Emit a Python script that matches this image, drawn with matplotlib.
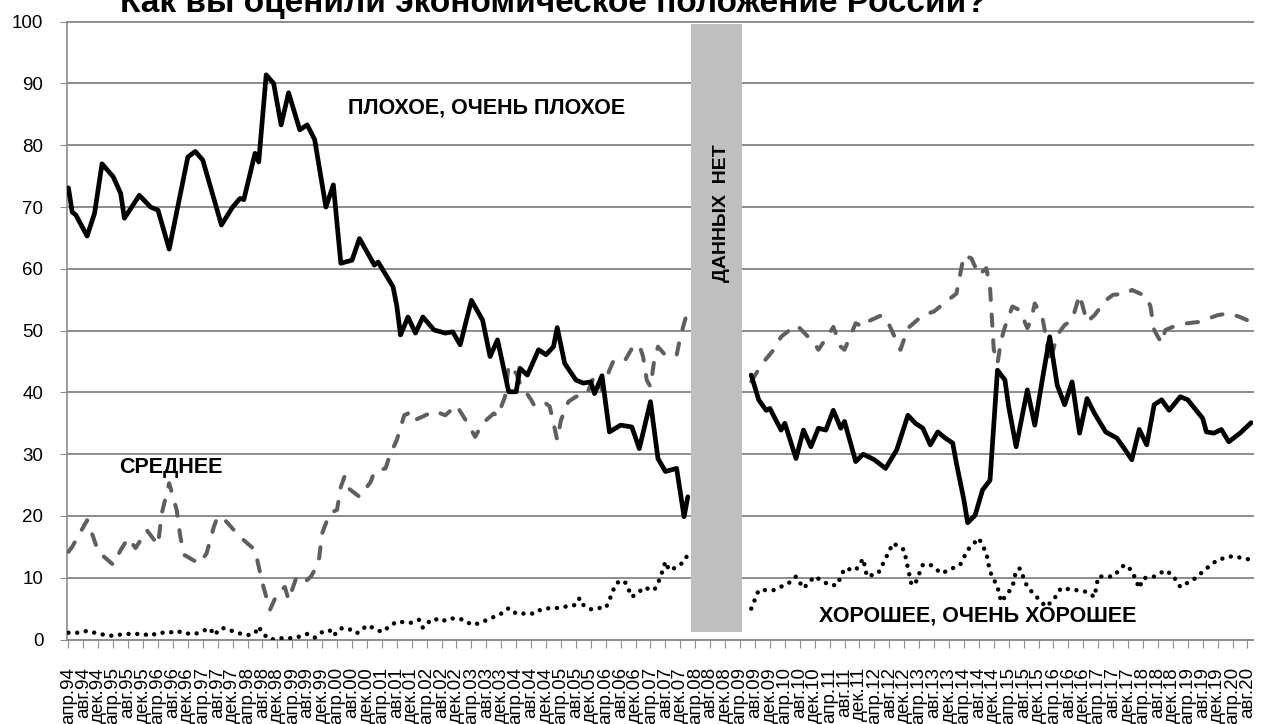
import matplotlib
matplotlib.use('Agg')
import matplotlib.pyplot as plt

# шрифт как в Excel (Arial -> Liberation Sans)
plt.rcParams['font.family'] = ['Liberation Sans', 'DejaVu Sans']

# месяцы от апр.94 (0) и значения, %
bad_m = [0, 1, 2, 5, 7, 9, 12, 14, 15, 19, 22, 24, 27, 32, 34, 36, 41, 44, 46, 47,
         50, 51, 53, 55, 57, 59, 62, 64, 66, 69, 71, 73, 76, 78, 82, 83, 87, 88, 89, 91,
         93, 95, 98, 101, 103, 105, 108, 111, 113, 115, 118, 120, 121, 123, 126, 128, 130, 131, 133, 136,
         138, 140, 141, 143, 145, 148, 151, 153, 156, 158, 160, 163, 165, 166,
         183, 185, 187, 188, 191, 192, 195, 197, 199, 201, 203, 205, 207, 208, 211, 213, 216, 219, 222, 225,
         227, 229, 231, 233, 235, 237, 238, 240, 241, 243, 245, 247, 249, 251, 252, 254, 257, 259, 261, 263,
         265, 267, 269, 271, 273, 275, 278, 281, 283, 285, 287, 289, 291, 293, 295, 298, 300, 304, 305, 307,
         309, 311, 314, 317]
bad_v = [73.1, 69.2, 68.7, 65.3, 69, 77, 74.9, 72.2, 68.2, 71.9, 70, 69.5, 63.2, 78.1, 79, 77.6, 67.1, 70, 71.4, 71.2,
         78.7, 77.3, 91.4, 90, 83.3, 88.5, 82.5, 83.3, 80.9, 70, 73.6, 60.9, 61.4, 64.9, 60.6, 61.1, 57.1, 54, 49.3, 52.2,
         49.6, 52.2, 50.1, 49.6, 49.8, 47.7, 54.9, 51.7, 45.8, 48.5, 40.1, 40.1, 43.9, 42.8, 46.9, 46.1, 47.4, 50.5, 44.7, 42,
         41.5, 41.7, 39.8, 42.7, 33.6, 34.7, 34.4, 30.9, 38.5, 29.3, 27.2, 27.7, 19.9, 23.1,
         42.8, 38.8, 37.1, 37.4, 33.9, 35, 29.3, 33.9, 31.2, 34.2, 33.9, 37.1, 34.2, 35.3, 28.8, 30, 29.1, 27.7, 30.7, 36.3,
         35, 34.2, 31.5, 33.6, 32.6, 31.8, 28.5, 22.6, 18.9, 20.1, 24.2, 25.8, 43.6, 42, 37.7, 31.2, 40.4, 34.7, 42, 49,
         41.2, 38, 41.7, 33.4, 39, 36.6, 33.6, 32.6, 30.9, 29.1, 34, 31.5, 38, 38.8, 37.1, 39.3, 38.8, 35.8, 33.6, 33.4,
         34, 32, 33.4, 35.1]

mid_m = [0, 1, 5, 6, 8, 12, 14, 16, 18, 21, 24, 25, 27, 29, 30, 31, 35, 37, 39, 40,
         42, 46, 50, 51, 52, 54, 56, 58, 59, 61, 63, 65, 67, 68, 70, 72, 73, 74, 75, 78,
         81, 82, 85, 86, 88, 90, 91, 92, 95, 98, 101, 104, 107, 109, 111, 114, 115, 117, 118, 120,
         121, 124, 125, 128, 129, 131, 132, 134, 136, 139, 141, 143, 145, 146, 149, 151, 153, 154, 155, 156,
         157, 158, 160, 163, 164, 166,
         183, 186, 189, 191, 195, 196, 200, 201, 204, 205, 207, 208, 211, 213, 214, 218, 220, 223, 225, 229,
         232, 234, 238, 240, 242, 244, 246, 247, 248, 249, 250, 251, 253, 255, 257, 258, 259, 261, 262, 263,
         265, 267, 269, 271, 273, 275, 278, 280, 284, 285, 289, 290, 291, 292, 293, 294, 296, 300, 303, 308,
         311, 314, 317]
mid_v = [14.2, 15, 19.3, 17.7, 14.2, 12.1, 14.5, 16.4, 14.8, 17.7, 15.3, 20.4, 25.3, 21, 16.6, 13.7, 12.3, 13.9, 18.3, 19.9,
         19.3, 16.6, 14.5, 11.8, 9.1, 4.8, 7.5, 8.5, 6.4, 9.9, 9.1, 10.2, 12.3, 17.2, 20.4, 21, 24.7, 26.4, 24.5, 23.1,
         25.5, 27.2, 27.7, 29.6, 32.3, 36.3, 36.6, 35.3, 36.1, 37, 36.3, 37.9, 35, 32.8, 35, 36.6, 36.1, 39.3, 44.4, 43.1,
         41.5, 38.8, 37.7, 38.2, 37.7, 32.3, 35.5, 38.5, 39.3, 39.8, 42.8, 40.4, 43.6, 45, 45, 47.1, 47.7, 45.8, 42, 40.9,
         45.2, 47.4, 46, 46, 49, 53.3,
         41.8, 44.7, 46.9, 49, 50.9, 50.4, 47.9, 46.9, 49.6, 50.6, 47.4, 46.9, 51.2, 50.6, 51.4, 52.5, 50.9, 46.9, 50.4, 52.5,
         53.1, 54.1, 56, 62.2, 61.7, 59, 60.1, 57, 47, 44.7, 48.5, 50.6, 53.9, 53.3, 50.4, 51.7, 54.4, 52.2, 49, 44.7,
         49.3, 50.9, 51.7, 55.8, 51.4, 52.5, 54.9, 55.8, 56, 56.6, 55.5, 53.9, 50.1, 49, 48, 50.1, 50.6, 51.2, 51.4, 52.5,
         52.8, 52.2, 51.4]

good_m = [0, 3, 5, 7, 10, 12, 15, 17, 20, 22, 24, 27, 29, 31, 34, 36, 38, 39, 41, 43,
          45, 48, 50, 51, 52, 54, 57, 59, 61, 64, 66, 68, 70, 71, 73, 75, 77, 78, 80, 82,
          84, 86, 88, 92, 94, 95, 96, 98, 100, 102, 104, 106, 108, 110, 113, 115, 117, 118, 120, 122,
          125, 126, 129, 131, 133, 136, 137, 138, 140, 142, 144, 145, 146, 147, 149, 150, 151, 153, 154, 157,
          158, 159, 160, 161, 163, 165, 166,
          183, 185, 189, 193, 195, 197, 200, 204, 206, 208, 211, 213, 214, 217, 219, 221, 224, 225, 226, 227,
          229, 231, 234, 239, 241, 244, 246, 247, 249, 250, 253, 254, 255, 257, 259, 262, 264, 266, 270, 273,
          275, 276, 280, 283, 285, 287, 288, 291, 294, 296, 298, 302, 305, 308, 312, 317]
good_v = [1.1, 1.1, 1.4, 1.1, 0.7, 0.6, 0.9, 0.9, 0.9, 0.6, 1.1, 1.1, 1.4, 1, 0.9, 1.4, 1.8, 0.7, 1.9, 1.6,
          1.1, 0.7, 1, 2.1, 1, 0, 0.2, 0.2, 0.3, 0.9, 0.3, 1.2, 1.5, 0.6, 1.8, 1.8, 1, 1.2, 2.3, 1.8,
          1.2, 2.1, 2.9, 2.7, 3.2, 1.9, 2.6, 3.4, 2.9, 3.4, 3.4, 3.2, 2.4, 2.6, 3.4, 3.9, 4.5, 5.1, 4.2, 4.2,
          4.2, 4.7, 5.1, 5.1, 5.3, 5.6, 6.7, 5.6, 4.9, 5.1, 5.1, 6.4, 8, 9.2, 9.5, 8.3, 6.9, 7.7, 8.4, 8,
          9.1, 10.7, 12.6, 11.2, 11.7, 12.6, 13.8,
          5, 8, 8, 9.1, 10.2, 8.3, 10.2, 8.8, 8.8, 11.5, 11.2, 13.1, 10.2, 10.7, 13.1, 15.6, 14.5, 11.5, 8.8, 9.1,
          12.1, 12.1, 10.7, 12.1, 14.5, 16.4, 14, 11, 8.5, 6.1, 8.5, 11.2, 11.5, 8.5, 7.2, 5.3, 6.4, 8.3, 8, 7.7,
          6.9, 10.2, 10.2, 12.1, 11.2, 8.3, 9.9, 10.2, 11.2, 10.4, 8.5, 9.9, 11.5, 12.9, 13.5, 12.9]

# подписи оси X: каждые 4 месяца, апр.94 ... авг.20
month_names = ['апр.', 'авг.', 'дек.']
tick_labels = []
for y in range(1994, 2021):
    for mn in month_names:
        tick_labels.append(mn + str(y)[2:])
tick_labels = tick_labels[:80]
tick_pos = [4 * i for i in range(len(tick_labels))]


def split(xs, ys, gap=170):
    # разбить ряд на два куска по разрыву в данных
    a = [(x, y) for x, y in zip(xs, ys) if x < gap]
    b = [(x, y) for x, y in zip(xs, ys) if x >= gap]
    return [list(zip(*a)), list(zip(*b))]


fig = plt.figure(figsize=(12.61, 7.24), dpi=100)
ax = fig.add_axes([0.0531, 0.1167, 0.9406, 0.8533])

grid_c = '#8c8c8c'
for v in range(10, 101, 10):
    ax.axhline(v, color=grid_c, lw=1.4, zorder=1, clip_on=False)

for xs, ys in split(mid_m, mid_v):
    ax.plot(xs, ys, color='#5f5f5f', lw=2.9, linestyle=(0, (2.8, 3.6)),
            dash_capstyle='round', solid_joinstyle='round', zorder=3)
for xs, ys in split(good_m, good_v):
    ax.plot(xs, ys, color='black', lw=3.2, linestyle=(0, (0.01, 1.95)),
            dash_capstyle='round', zorder=3)
for xs, ys in split(bad_m, bad_v):
    ax.plot(xs, ys, color='black', lw=3.4, solid_joinstyle='round',
            solid_capstyle='round', zorder=4)

# серая полоса "данных нет"
ax.bar(173.7, 98.5, width=13.8, bottom=1.2, color='#bfbfbf', zorder=5)
ax.text(173.7 + 1.2, 69, 'ДАННЫХ  НЕТ', rotation=90, ha='center', va='center',
        fontsize=14, fontweight='bold', zorder=6)

ax.text(112, 86, 'ПЛОХОЕ, ОЧЕНЬ ПЛОХОЕ', ha='center', va='center',
        fontsize=15.5, fontweight='bold', zorder=6)
ax.text(27.5, 27.9, 'СРЕДНЕЕ', ha='center', va='center',
        fontsize=15.5, fontweight='bold', zorder=6)
ax.text(243.8, 3.8, 'ХОРОШЕЕ, ОЧЕНЬ ХОРОШЕЕ', ha='center', va='center',
        fontsize=15.5, fontweight='bold', zorder=6)

ax.set_xlim(-0.4, 317.5)
ax.set_ylim(0, 100)
ax.set_yticks(range(0, 101, 10))
ax.set_xticks(tick_pos)
ax.set_xticklabels(tick_labels, rotation=90, fontsize=13.5)
ax.tick_params(axis='y', labelsize=13.5, length=5, color=grid_c, pad=12)
ax.tick_params(axis='x', length=6, color=grid_c, pad=14)
for s in ['top', 'right']:
    ax.spines[s].set_visible(False)
ax.spines['left'].set_color(grid_c)
ax.spines['bottom'].set_color(grid_c)
ax.spines['left'].set_linewidth(1.2)
ax.spines['bottom'].set_linewidth(1.4)

# заголовок в оригинале обрезан верхним краем картинки
fig.text(0.095, 1 - 12 / 724, 'Как вы оценили экономическое положение России?',
         ha='left', va='baseline', fontsize=24, fontweight='bold')

fig.savefig('out.png', dpi=100)
